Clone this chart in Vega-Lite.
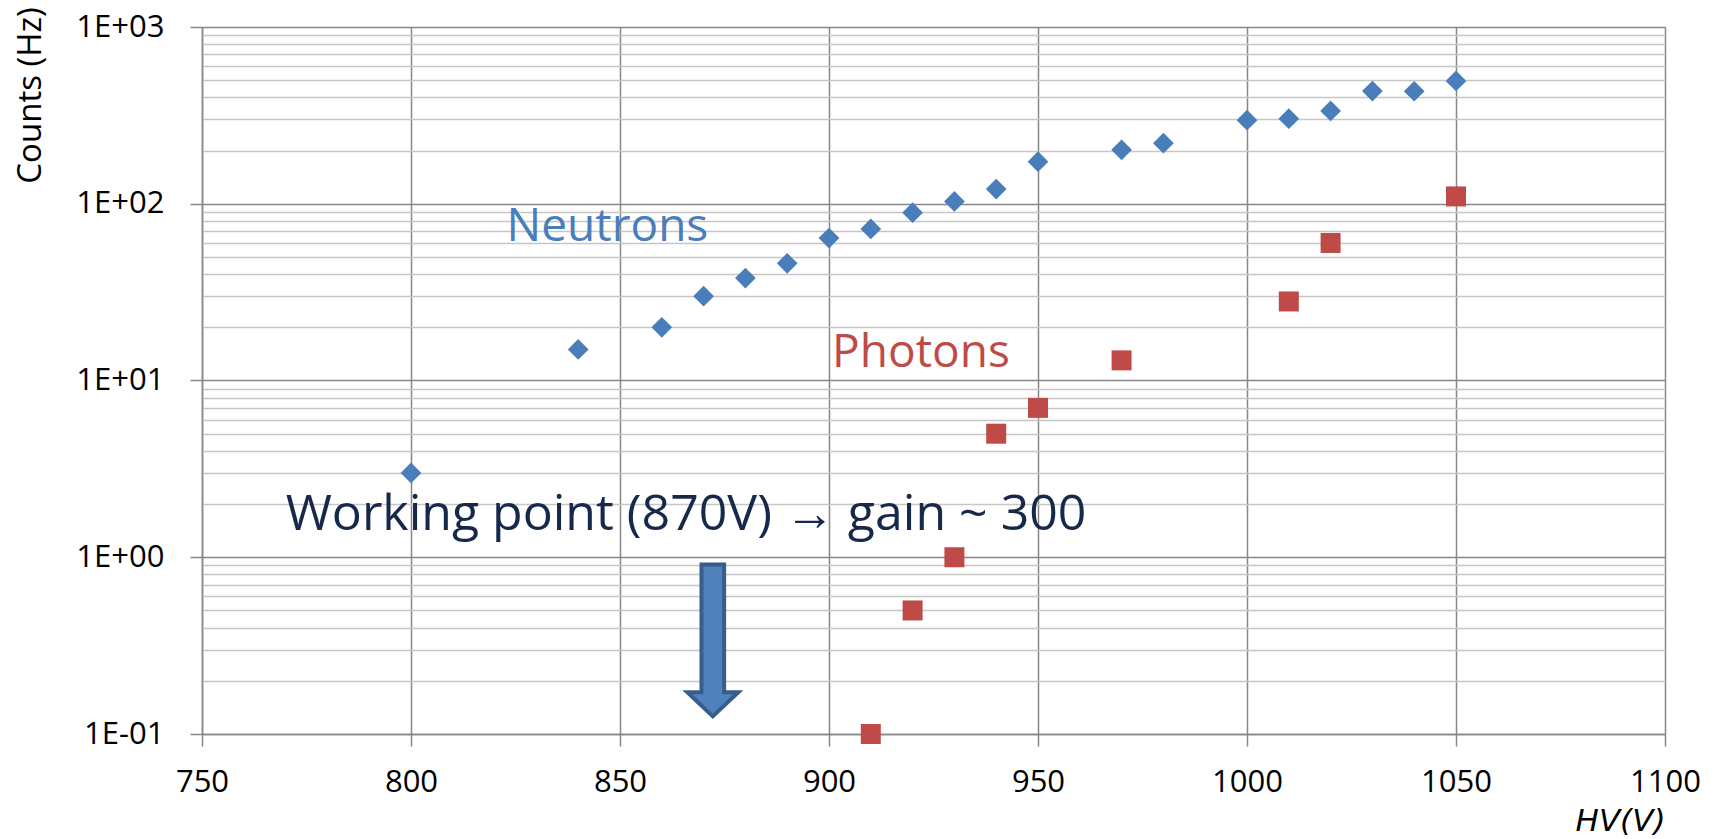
{
  "$schema": "https://vega.github.io/schema/vega-lite/v6.json",
  "autosize": {"type": "none"},
  "width": 1463,
  "height": 707,
  "padding": {"left": 202, "top": 27, "right": 51, "bottom": 105},
  "background": "white",
  "config": {
    "font": "Open Sans",
    "view": {"stroke": null}
  },
  "datasets": {
    "counts": [
      {"hv": 800, "counts": 3, "series": "Neutrons"},
      {"hv": 840, "counts": 15, "series": "Neutrons"},
      {"hv": 860, "counts": 20, "series": "Neutrons"},
      {"hv": 870, "counts": 30, "series": "Neutrons"},
      {"hv": 880, "counts": 38, "series": "Neutrons"},
      {"hv": 890, "counts": 46, "series": "Neutrons"},
      {"hv": 900, "counts": 64, "series": "Neutrons"},
      {"hv": 910, "counts": 72, "series": "Neutrons"},
      {"hv": 920, "counts": 89, "series": "Neutrons"},
      {"hv": 930, "counts": 103, "series": "Neutrons"},
      {"hv": 940, "counts": 121, "series": "Neutrons"},
      {"hv": 950, "counts": 173, "series": "Neutrons"},
      {"hv": 970, "counts": 202, "series": "Neutrons"},
      {"hv": 980, "counts": 220, "series": "Neutrons"},
      {"hv": 1000, "counts": 297, "series": "Neutrons"},
      {"hv": 1010, "counts": 303, "series": "Neutrons"},
      {"hv": 1020, "counts": 335, "series": "Neutrons"},
      {"hv": 1030, "counts": 434, "series": "Neutrons"},
      {"hv": 1040, "counts": 433, "series": "Neutrons"},
      {"hv": 1050, "counts": 495, "series": "Neutrons"},
      {"hv": 910, "counts": 0.1, "series": "Photons"},
      {"hv": 920, "counts": 0.5, "series": "Photons"},
      {"hv": 930, "counts": 1, "series": "Photons"},
      {"hv": 940, "counts": 5, "series": "Photons"},
      {"hv": 950, "counts": 7, "series": "Photons"},
      {"hv": 970, "counts": 13, "series": "Photons"},
      {"hv": 1010, "counts": 28, "series": "Photons"},
      {"hv": 1020, "counts": 60, "series": "Photons"},
      {"hv": 1050, "counts": 110, "series": "Photons"}
    ],
    "seriesLabels": [
      {"hv": 847, "counts": 61.8, "series": "Neutrons"},
      {"hv": 922, "counts": 12, "series": "Photons"}
    ],
    "note": [
      {"hv": 865.8, "counts": 1.43, "text": "Working point (870V) → gain ~ 300"}
    ],
    "marker": [
      {"hv": 872.2, "counts": 0.3385}
    ]
  },
  "encoding": {
    "x": {
      "field": "hv",
      "type": "quantitative",
      "scale": {"domain": [750, 1100], "nice": false, "zero": false},
      "axis": {
        "title": "HV(V)",
        "values": [750, 800, 850, 900, 950, 1000, 1050, 1100],
        "format": "d",
        "grid": true,
        "gridColor": "#878787",
        "gridWidth": 1.5,
        "domainColor": "#878787",
        "domainWidth": 1.5,
        "tickColor": "#878787",
        "tickWidth": 1.5,
        "tickSize": 12,
        "labelFontSize": 31,
        "labelColor": "#000000",
        "labelPadding": 21,
        "labelFlush": false,
        "titleFont": "DejaVu Sans",
        "titleFontSize": 31,
        "titleFontWeight": "normal",
        "titleFontStyle": "oblique",
        "titleColor": "#000000",
        "titleAlign": "right",
        "titleBaseline": "alphabetic",
        "titleLimit": 400,
        "titleX": 1463,
        "titleY": 96
      }
    },
    "y": {
      "field": "counts",
      "type": "quantitative",
      "scale": {"type": "log", "domain": [0.1, 1000], "nice": false},
      "axis": {
        "title": "Counts (Hz)",
        "values": [0.1, 0.2, 0.3, 0.4, 0.5, 0.6, 0.7, 0.8, 0.9, 1, 2, 3, 4, 5, 6, 7, 8, 9, 10, 20, 30, 40, 50, 60, 70, 80, 90, 100, 200, 300, 400, 500, 600, 700, 800, 900, 1000],
        "labelExpr": "indexof([0.1, 1, 10, 100, 1000], datum.value) < 0 ? '' : (datum.value < 1 ? '1E-01' : '1E+0' + format(round(log(datum.value) / LN10), 'd'))",
        "grid": true,
        "gridColor": {"condition": {"test": "indexof([0.1, 1, 10, 100, 1000], datum.value) >= 0", "value": "#878787"}, "value": "#c6c6c6"},
        "gridWidth": 1.5,
        "domainColor": "#878787",
        "domainWidth": 1.5,
        "tickColor": "#878787",
        "tickWidth": 1.5,
        "tickSize": 12,
        "tickOpacity": {"condition": {"test": "indexof([0.1, 1, 10, 100, 1000], datum.value) >= 0", "value": 1}, "value": 0},
        "labelFontSize": 31,
        "labelColor": "#000000",
        "labelPadding": 26,
        "labelFlush": false,
        "labelOverlap": false,
        "labelBound": false,
        "titleFontSize": 33,
        "titleFontWeight": "normal",
        "titleColor": "#000000",
        "titleAngle": -90,
        "titleAlign": "center",
        "titleBaseline": "middle",
        "titleX": -172,
        "titleY": 68
      }
    }
  },
  "layer": [
    {
      "data": {"name": "counts"},
      "mark": {"type": "point", "filled": true, "opacity": 1, "strokeWidth": 0.8},
      "encoding": {
        "shape": {
          "field": "series",
          "type": "nominal",
          "scale": {"domain": ["Neutrons", "Photons"], "range": ["diamond", "square"]},
          "legend": null
        },
        "size": {
          "field": "series",
          "type": "nominal",
          "scale": {"domain": ["Neutrons", "Photons"], "range": [430, 400]},
          "legend": null
        },
        "color": {
          "field": "series",
          "type": "nominal",
          "scale": {"domain": ["Neutrons", "Photons"], "range": ["#4a7ebb", "#be4b48"]},
          "legend": null
        }
      }
    },
    {
      "data": {"name": "seriesLabels"},
      "mark": {"type": "text", "fontSize": 46, "align": "center", "baseline": "alphabetic", "font": "Open Sans"},
      "encoding": {
        "text": {"field": "series", "type": "nominal"},
        "color": {
          "field": "series",
          "type": "nominal",
          "scale": {"domain": ["Neutrons", "Photons"], "range": ["#4a7ebb", "#be4b48"]},
          "legend": null
        }
      }
    },
    {
      "data": {"name": "note"},
      "mark": {"type": "text", "fontSize": 50, "align": "center", "baseline": "alphabetic", "color": "#16294a", "font": "Open Sans"},
      "encoding": {
        "text": {"field": "text", "type": "nominal"}
      }
    },
    {
      "data": {"name": "marker"},
      "mark": {
        "type": "point",
        "filled": true,
        "shape": "M-0.146,-0.98L0.146,-0.98L0.146,0.67L0.329,0.67L0,0.98L-0.329,0.67L-0.146,0.67Z",
        "size": 24025,
        "fill": "#4f81bd",
        "stroke": "#385d8a",
        "strokeWidth": 4,
        "opacity": 1
      },
      "encoding": {}
    }
  ]
}
